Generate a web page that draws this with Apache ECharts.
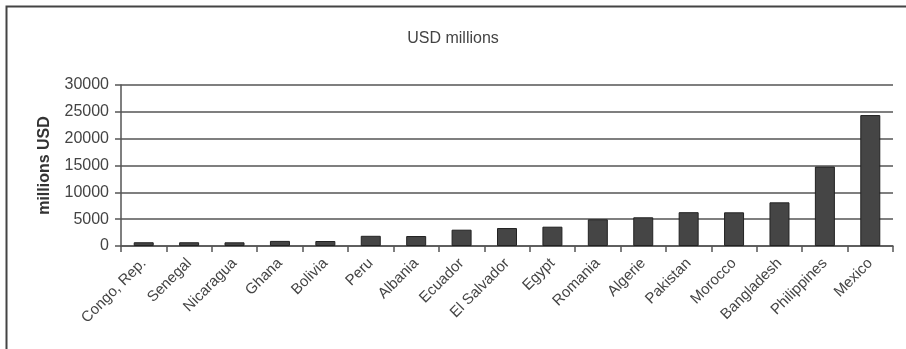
<!DOCTYPE html>
<html><head><meta charset="utf-8">
<script src="https://cdn.jsdelivr.net/npm/echarts@6/dist/echarts.min.js"></script>
<style>html,body{margin:0;padding:0;background:#fff}#c{width:906px;height:349px}</style>
</head><body><div id="c"></div>
<script>
const categories = ['Congo, Rep.','Senegal','Nicaragua','Ghana','Bolivia','Peru','Albania','Ecuador','El Salvador','Egypt','Romania','Algerie','Pakistan','Morocco','Bangladesh','Philippines','Mexico'];
const values = [700,700,690,950,930,1900,1860,3040,3350,3600,4980,5350,6300,6280,8140,14800,24400];
const yTicks = [0,5000,10000,15000,20000,25000,30000];
const chartTitle = 'USD millions';
const yName = 'millions USD';

const chart = echarts.init(document.getElementById('c'));
chart.setOption({
  animation:false,
  backgroundColor:'#fff',
  graphic:[{type:'rect',shape:{x:6.5,y:6.5,width:940,height:400},style:{fill:'none',stroke:'#444',lineWidth:2}}],
  title:{text:chartTitle,left:'center',top:26,textStyle:{fontFamily:'Liberation Sans',fontSize:16,fontWeight:'normal',color:'#444'}},
  grid:{left:121,right:13,top:85,bottom:103},
  xAxis:{type:'category',data:categories,
    axisLine:{lineStyle:{color:'#555',width:1.5}},
    axisTick:{show:true,length:6,alignWithLabel:false,lineStyle:{color:'#555',width:1.5}},
    axisLabel:{rotate:45,fontFamily:'Liberation Sans',fontSize:15,color:'#444',margin:15,interval:0}},
  yAxis:{type:'value',min:0,max:30000,interval:5000,
    name:yName,nameLocation:'middle',nameGap:68,nameRotate:90,
    nameTextStyle:{fontFamily:'Liberation Sans',fontSize:16,fontWeight:'bold',color:'#333'},
    axisLine:{show:true,lineStyle:{color:'#555',width:1.5}},
    axisTick:{show:true,length:6,lineStyle:{color:'#555',width:1.5}},
    splitLine:{lineStyle:{color:'#555',width:1.5}},
    axisLabel:{fontFamily:'Liberation Sans',fontSize:16,color:'#444',margin:12,
      formatter:v=>yTicks.includes(v)?String(v):''}},
  series:[{type:'bar',data:values,barWidth:20,itemStyle:{color:'#454545',borderColor:'#222',borderWidth:1}}]
});
</script></body></html>
